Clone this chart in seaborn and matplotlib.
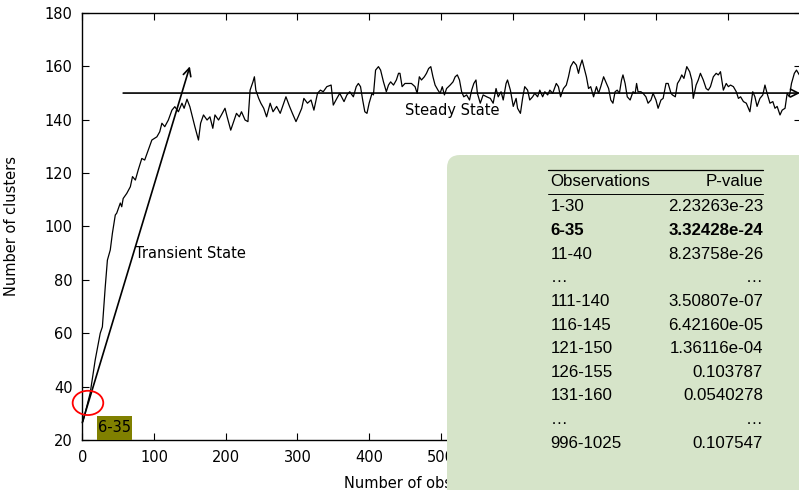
import matplotlib
matplotlib.use("Agg")
import matplotlib.pyplot as plt
import seaborn as sns
import pandas as pd
from matplotlib.patches import Ellipse, FancyBboxPatch, Rectangle
from matplotlib.lines import Line2D
from matplotlib.transforms import IdentityTransform

# ---------------- data ----------------
obs = [1, 11, 18, 25, 28, 32, 35, 39, 42, 46, 48, 53, 55, 57, 62, 67, 70, 74, 78, 83,
       87, 92, 97, 104, 108, 111, 115, 120, 125, 129, 134, 139, 142, 146, 150, 157, 162, 165,
       169, 174, 178, 182, 185, 190, 194, 199, 202, 207, 211, 215, 219, 222, 227, 231, 234,
       238, 240, 242, 246, 249, 253, 257, 262, 266, 271, 276, 280, 284, 289, 293, 298, 301,
       306, 309, 314, 319, 323, 328, 332, 336, 341, 347, 350, 355,
       359, 365, 369, 373, 378, 382, 385, 388, 391, 394, 397, 400, 404, 406, 409, 413, 416,
       420, 424, 427, 430, 434, 438, 441, 443, 446, 450, 455, 459, 464, 467, 470, 473, 477,
       480, 483, 486, 489, 492, 496, 499, 502, 505, 508, 513, 517, 520, 523, 526, 529, 532,
       536, 540, 543, 546, 549, 551, 555,
       559, 564, 569, 573, 577, 580, 584, 587, 591, 593, 597, 601, 605, 607, 611, 614, 617,
       621, 624, 628, 631, 635, 638, 642, 645, 649, 652, 656, 661, 664, 667, 671, 675, 678,
       681, 685, 689, 692, 694, 697, 700, 703, 706, 709, 713, 717, 720, 723, 727, 731, 734,
       737, 740, 743, 746, 749,
       752, 754, 757, 760, 764, 768, 771, 773, 775, 779, 782, 786, 789, 793, 796, 800, 803,
       807, 810, 814, 817, 821, 823, 827, 830, 833, 836, 839, 843, 847, 850, 852, 856, 859,
       862, 866, 870, 873, 876, 880, 884, 887, 890, 894, 898, 901, 904, 908, 912, 915, 918,
       922, 926, 929, 931, 935, 938, 941, 945, 949, 952, 955, 959, 963, 966, 969, 973, 976,
       980, 983, 986, 989, 993, 996, 1000]
clusters = [27.0, 37.6, 50.0, 60.0, 62.4, 77.4, 87.4, 91.2, 97.5, 104.3, 105.0, 108.8, 107.4,
            110.5, 112.4, 114.9, 118.7, 117.4, 121.2, 125.5, 124.9, 128.7, 132.4, 133.6, 135.5,
            138.7, 137.4, 139.9, 143.6, 144.9, 143.0, 146.2, 144.3, 147.7, 144.9, 137.4, 132.4,
            138.7,
            141.8, 139.9, 141.1, 136.8, 141.8, 139.9, 141.8, 144.3, 141.1, 136.1, 139.3, 142.4,
            141.1, 143.0, 139.9, 139.3, 151.1, 154.2, 156.1, 151.1, 148.0, 146.2, 144.3, 141.1,
            146.2, 143.0, 145.0, 142.4, 145.5, 148.6, 145.0, 142.4, 139.3, 141.1, 144.3, 148.0,
            146.2, 147.4, 143.6, 149.9, 151.1, 150.5, 152.4, 153.0, 145.5, 148.0,
            149.9, 146.8, 149.3, 150.5, 148.6, 152.4, 153.6, 152.4, 147.4, 143.0, 142.4, 146.2,
            149.9, 149.3, 158.6, 159.9, 158.6, 154.2, 150.5, 153.0, 154.2, 153.0, 154.9, 157.4,
            157.4, 152.4, 153.6, 153.6, 153.6, 152.4, 149.9, 156.1, 154.9, 156.1, 157.4, 159.2,
            159.9, 156.1, 153.0, 151.1, 149.9, 152.4, 149.3, 151.7, 153.0, 154.2, 156.1, 156.8,
            154.9, 150.5, 148.6, 149.3, 147.4, 151.1, 153.6, 154.9, 149.9, 146.2,
            149.3, 148.6, 148.0, 146.2, 151.7, 148.6, 150.5, 147.4, 153.6, 154.9, 151.1, 145.0,
            148.0, 144.3, 142.4, 148.0, 152.4, 151.1, 147.4, 148.6, 149.9, 148.6, 151.1, 148.6,
            150.5, 149.3, 151.1, 149.9, 153.6, 152.4, 148.6, 151.7, 153.0, 156.1, 159.9, 161.8,
            160.5, 157.4, 159.9, 162.4, 159.2, 156.1, 151.7, 152.4, 148.6, 152.4, 149.9, 152.4,
            156.1, 153.6, 151.7, 147.4, 146.2, 150.5, 151.1, 149.9,
            154.9, 156.8, 153.6, 148.6, 147.4, 150.5, 149.9, 153.6, 150.5, 150.5, 149.9, 148.6,
            146.2, 147.4, 149.9, 147.4, 144.3, 147.4, 148.0, 153.6, 153.6, 149.9, 149.3, 148.6,
            153.6, 154.9, 156.8, 155.5, 159.9, 158.0, 154.9, 148.0, 153.0, 154.9, 157.4, 154.9,
            151.7, 151.1, 152.4, 156.1, 157.4, 156.8, 158.0, 151.1, 153.6, 152.4, 153.0, 152.4,
            150.5, 148.0, 148.6, 146.8, 146.2, 144.3, 143.0, 150.5, 148.6, 145.0, 148.0, 149.3,
            153.0, 149.9, 146.2, 146.8, 144.3, 145.0, 141.8, 143.6, 144.3, 149.9, 148.6, 153.6,
            157.4, 158.6, 156.8]

x_ticks = [0, 100, 200, 300, 400, 500, 600, 700, 800, 900]
y_ticks = [20, 40, 60, 80, 100, 120, 140, 160, 180]

table_header = ["Observations", "P-value"]
table_obs = ["1-30", "6-35", "11-40", "\u2026", "111-140", "116-145", "121-150",
             "126-155", "131-160", "\u2026", "996-1025"]
table_p = ["2.23263e-23", "3.32428e-24", "8.23758e-26", "\u2026", "3.50807e-07",
           "6.42160e-05", "1.36116e-04", "0.103787", "0.0540278", "\u2026", "0.107547"]
bold_row = 1

# ---------------- style ----------------
sns.set_style("ticks")
plt.rcParams['font.family'] = ['DejaVu Sans']
plt.rcParams['font.size'] = 10.5
plt.rcParams['text.color'] = 'black'
plt.rcParams['axes.labelcolor'] = 'black'
plt.rcParams['xtick.color'] = 'black'
plt.rcParams['ytick.color'] = 'black'

W, H = 799, 490
fig = plt.figure(figsize=(W / 100, H / 100), dpi=100)
ax = fig.add_axes([82.3 / W, 50 / H, 718.5 / W, 427 / H])

df = pd.DataFrame({"obs": obs, "clusters": clusters})
sns.lineplot(data=df, x="obs", y="clusters", ax=ax, color="black", lw=0.9,
             estimator=None, sort=False, zorder=3)

ax.set_xlim(0, 1002)
ax.set_ylim(20, 180)
ax.set_xticks(x_ticks)
ax.set_yticks(y_ticks)
ax.tick_params(direction="in", length=5, width=0.8, top=True, right=True,
               labelsize=10.5, pad=7, colors="black")
for s in ax.spines.values():
    s.set_linewidth(1.0)
    s.set_color("black")

ax.set_xlabel("Number of observations", fontsize=10.5, color="black")
ax.set_ylabel("Number of clusters", fontsize=10.5, color="black")
ax.xaxis.set_label_coords(0.487, -0.085)
ax.yaxis.set_label_coords(-0.088, 0.5)

# arrows
ax.annotate("", xy=(150, 160), xytext=(0, 26.5),
            arrowprops=dict(arrowstyle="->", lw=1.2, color="black",
                            shrinkA=0, shrinkB=0, mutation_scale=14), zorder=4)
ax.annotate("", xy=(1001, 150), xytext=(57, 150),
            arrowprops=dict(arrowstyle="->", lw=1.2, color="black",
                            shrinkA=0, shrinkB=0, mutation_scale=14), zorder=4,
            annotation_clip=False)
ax.text(73.5, 90, "Transient State", ha="left", va="center", fontsize=10.5, color="black")
ax.text(450, 143.3, "Steady State", ha="left", va="center", fontsize=10.5, color="black")

# red ellipse
ax.add_patch(Ellipse((7.9, 33.9), width=42.7, height=9.1, edgecolor="red",
                     facecolor="none", lw=1.3, clip_on=False, zorder=5))
# olive label
ax.add_patch(Rectangle((20.5, 20), 48.8, 9, facecolor="#808000", edgecolor="none",
                       clip_on=False, zorder=5))
ax.text(44.9, 24.6, "6-35", ha="center", va="center", fontsize=10.5, color="black",
        zorder=6)

# ---------------- table overlay ----------------
box = FancyBboxPatch((447, -40), 420, H - 155 + 40,
                     boxstyle="round,pad=0,rounding_size=13",
                     transform=IdentityTransform(), facecolor="#d6e4c9",
                     edgecolor="none", zorder=10)
fig.add_artist(box)

def fx(px):
    return px / W

def fy(py):
    return 1 - py / H

tfont = ['Liberation Sans', 'DejaVu Sans']
tsize = 12.2
x_left, x_right = 550.5, 763
fig.add_artist(Line2D([fx(548), fx(763)], [fy(170), fy(170)], color="black", lw=0.9,
                      transform=fig.transFigure, zorder=11))
fig.add_artist(Line2D([fx(548), fx(763)], [fy(194.3), fy(194.3)], color="black", lw=0.7,
                      transform=fig.transFigure, zorder=11))
fig.text(fx(x_left), fy(181.7), table_header[0], ha="left", va="center",
         family=tfont, fontsize=tsize, color="black", zorder=12)
fig.text(fx(x_right), fy(181.7), table_header[1], ha="right", va="center",
         family=tfont, fontsize=tsize, color="black", zorder=12)
for i, (o, p) in enumerate(zip(table_obs, table_p)):
    yy = 206.7 + i * 23.66
    wt = "bold" if i == bold_row else "normal"
    fig.text(fx(x_left), fy(yy), o, ha="left", va="center", family=tfont,
             fontsize=tsize, weight=wt, color="black", zorder=12)
    fig.text(fx(x_right), fy(yy), p, ha="right", va="center", family=tfont,
             fontsize=tsize, weight=wt, color="black", zorder=12)

fig.savefig("out.png", dpi=100)
